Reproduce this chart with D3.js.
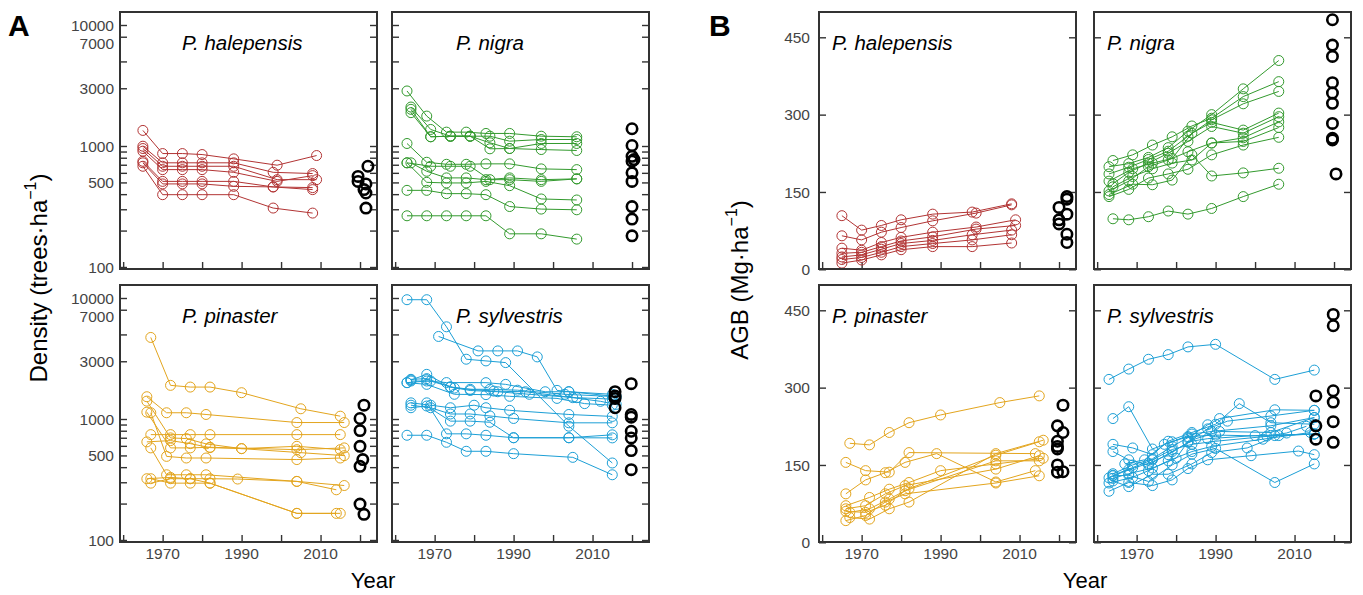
<!DOCTYPE html>
<html>
<head>
<meta charset="utf-8">
<script src="https://cdn.jsdelivr.net/npm/d3@7"></script>
<style>
  body { margin: 0; background: #fff; }
  svg { font-family: "Liberation Sans", Arial, sans-serif; }
</style>
</head>
<body>
<svg id="chart" width="1363" height="595"></svg>
<script>
// ---- data ----
var species = ["P. halepensis", "P. nigra", "P. pinaster", "P. sylvestris"];
var colors = ["#b23434", "#339a2e", "#e3a51e", "#1c9fd6"];

var densityTicks = [100, 200, 300, 400, 500, 600, 700, 800, 900, 1000, 3000, 5000, 8000, 10000];
var densityLabels = [100, 500, 1000, 3000, 7000, 10000];
var agbTicks = [0, 150, 300, 450];
var yearTicks = [1960, 1970, 1980, 1990, 2000, 2010, 2020];
var yearLabels = [1970, 1990, 2010];

// density, trees/ha
var halDensity = [
  [[1965,1345],[1970,866],[1975,866],[1980,850],[1988,783],[1999,694],[2009,834]],
  [[1965,996],[1970,726],[1975,726],[1980,726],[1988,726],[1998,606],[2008,592]],
  [[1965,953],[1970,680],[1975,680],[1980,680],[1988,680],[1999,527],[2009,527]],
  [[1965,906],[1970,638],[1975,638],[1980,638],[1988,606],[1999,510],[2008,569]],
  [[1965,748],[1970,510],[1975,510],[1980,510],[1988,510],[1998,459],[2008,436]],
  [[1965,726],[1970,486],[1975,486],[1980,486],[1988,464],[1998,459],[2008,453]],
  [[1965,680],[1970,396],[1975,396],[1980,396],[1988,396],[1998,307],[2008,279]]
];
var halDensityNew = [[2022,680],[2019.5,561],[2019.5,510],[2021.5,486],[2021,436],[2021.5,409],[2021.5,307]];

var nigDensity = [
  [[1963,2850],[1968,1767],[1973,1302],[1978,1302],[1983,1270],[1989,1270],[1997,1205],[2006,1192]],
  [[1964,2099],[1969,1370],[1974,1205],[1979,1205],[1984,1205],[1989,1096],[1997,1132],[2006,1132]],
  [[1964,2009],[1969,1192],[1974,1205],[1979,1205],[1984,1063],[1989,953],[1997,1049],[2006,1049]],
  [[1964,1886],[1969,1192],[1974,1205],[1979,1205],[1984,948],[1989,953],[1997,935],[2006,918]],
  [[1963,1049],[1968,734],[1973,706],[1978,706],[1983,712],[1989,712],[1997,647],[2006,638]],
  [[1963,726],[1969,680],[1974,680],[1979,680],[1984,527],[1989,527],[1997,510],[2006,535]],
  [[1964,726],[1968,618],[1973,545],[1978,545],[1983,527],[1989,545],[1997,527],[2006,535]],
  [[1963,726],[1968,501],[1973,495],[1978,495],[1983,510],[1989,470],[1997,365],[2006,358]],
  [[1963,430],[1968,430],[1973,404],[1978,404],[1983,396],[1989,316],[1997,301],[2006,297]],
  [[1963,265],[1968,265],[1973,265],[1978,265],[1983,265],[1989,188],[1997,188],[2006,170]]
];
var nigDensityNew = [[2020,1389],[2020,1010],[2020,822],[2020.5,772],[2020,748],[2020,600],[2020,510],[2020,316],[2020,249],[2020,181]];

var pinDensity = [
  [[1967,4721],[1972,1897],[1977,1836],[1982,1836],[1990,1650],[2005,1215],[2015,1055]],
  [[1966,1528],[1971,1126],[1976,1126],[1981,1090],[2004,935],[2016,935]],
  [[1967,743],[1972,743],[1977,743],[1982,743],[2004,743],[2015,743]],
  [[1966,1405],[1972,698],[1976,689],[1981,623],[1990,569],[2004,595],[2015,558]],
  [[1967,1126],[1971,491],[1976,476],[1981,476],[2004,462],[2015,476]],
  [[1966,1139],[1972,577],[1977,577],[1982,584],[2004,558],[2016,577]],
  [[1966,647],[1972,663],[1977,626],[1982,580],[1990,569],[2005,527],[2016,498]],
  [[1966,321],[1972,329],[1977,321],[1982,321],[1989,319],[2004,305],[2014,260]],
  [[1967,321],[1972,295],[1977,295],[1982,295],[2004,166],[2014,166]],
  [[1967,295],[1972,321],[1977,321],[1982,295],[2004,166],[2015,166]],
  [[1967,577],[1971,346],[1976,346],[1981,346],[2004,305],[2016,282]]
];
var pinDensityNew = [[2021,1302],[2020,1010],[2020,803],[2020,595],[2020.7,462],[2020,406],[2020,198],[2021,163]];

var sylDensity = [
  [[1963,9680],[1968,9680],[1973,5781],[1978,3120],[1983,3020],[1988,2925],[2004,872],[2015,433]],
  [[1971,4810],[1981,3654],[1986,3654],[1991,3654],[1996,3260],[2001,1724],[2004,1682],[2015,1546]],
  [[1963,1997],[1968,2060],[1973,2000],[1983,1997],[1988,1933],[1998,1680],[2004,1680],[2015,1600]],
  [[1964,2127],[1968,2156],[1974,1840],[1979,1760],[1984,1760],[1991,1730],[2003,1600],[2016,1530]],
  [[1964,2060],[1969,2060],[1975,1800],[1985,1700],[1993,1680],[2005,1500],[2012,1400],[2016,1319]],
  [[1964,2100],[1968,2339],[1974,1840],[1979,1720],[1986,1680],[1994,1600],[2006,1500],[2015,1460]],
  [[1963,1997],[1968,1933],[1975,1600],[1983,1590],[1989,1540],[2001,1480],[2008,1340],[2015,1300]],
  [[1964,1360],[1969,1300],[1974,1239],[1980,1300],[1983,1239],[1989,1180],[2004,1090],[2015,1050]],
  [[1964,1300],[1969,1239],[1974,1100],[1979,1100],[1984,1060],[1990,1010],[2004,930],[2015,930]],
  [[1964,1239],[1968,1280],[1974,960],[1979,960],[1984,940],[1990,700],[2004,700],[2015,740]],
  [[1968,1360],[1973,754],[1978,754],[1983,734],[1990,700],[2004,700],[2015,698]],
  [[1963,734],[1968,734],[1973,642],[1978,541],[1983,541],[1990,517],[2005,482],[2015,346]]
];
var sylDensityNew = [[2015.7,1682],[2015.7,1546],[2015.7,1479],[2015.7,1239],[2019.8,1958],[2019.8,1090],[2019.8,1035],[2019.8,792],[2019.8,698],[2019.8,548],[2019.8,381]];

// aboveground biomass, Mg/ha
var halAgb = [
  [[1965,104],[1970,76],[1975,85],[1980,96],[1988,107],[1998,111],[2008,127]],
  [[1965,65],[1970,57],[1975,72],[1980,81],[1988,94],[1999,109],[2008,125]],
  [[1965,41],[1970,37],[1975,52],[1980,62],[1988,72],[1999,82],[2009,96]],
  [[1965,31],[1970,33],[1975,44],[1980,55],[1988,63],[1999,78],[2009,85]],
  [[1965,24],[1970,28],[1975,39],[1980,50],[1988,56],[1998,67],[2008,76]],
  [[1965,19],[1970,23],[1975,33],[1980,44],[1988,50],[1998,57],[2008,67]],
  [[1965,12],[1970,18],[1975,28],[1980,38],[1988,44],[1998,44],[2008,51]]
];
var halAgbNew = [[2022,141],[2022,136],[2020,120],[2022,107],[2020,96],[2020,88],[2022,68],[2022,52]];

var nigAgb = [
  [[1963,199],[1968,205],[1973,217],[1978,236],[1983,268],[1989,300],[1997,350],[2006,405]],
  [[1964,211],[1969,222],[1974,241],[1979,257],[1984,278],[1989,293],[1997,335],[2006,364]],
  [[1963,185],[1968,198],[1973,213],[1978,229],[1983,258],[1989,290],[1997,321],[2006,345]],
  [[1963,171],[1969,195],[1974,206],[1979,215],[1984,264],[1989,285],[1997,270],[2006,303]],
  [[1964,166],[1968,188],[1973,206],[1978,225],[1983,248],[1989,277],[1997,264],[2006,296]],
  [[1963,152],[1968,171],[1973,199],[1978,212],[1983,228],[1989,245],[1997,255],[2006,286]],
  [[1964,160],[1969,180],[1974,195],[1979,206],[1984,212],[1989,245],[1997,248],[2006,275]],
  [[1963,141],[1968,155],[1973,177],[1978,185],[1983,194],[1989,222],[1997,241],[2006,256]],
  [[1963,145],[1969,165],[1974,164],[1979,173],[1984,222],[1989,181],[1997,187],[2006,196]],
  [[1964,98],[1968,96],[1973,102],[1978,113],[1983,107],[1989,118],[1997,141],[2006,165]]
];
var nigAgbNew = [[2019.6,484],[2019.6,435],[2019.6,413],[2019.6,362],[2019.6,342],[2019.6,322],[2019.6,283],[2019.6,254],[2019.6,251],[2020.5,185]];

var pinAgb = [
  [[1967,192],[1972,189],[1977,213],[1982,232],[1990,247],[2005,271],[2015,284]],
  [[1966,155],[1971,139],[1977,136],[1982,174],[2014,172]],
  [[1966,94],[1971,121],[1976,135],[1981,155],[1989,172],[2004,117],[2014,139]],
  [[1966,71],[1972,87],[1977,103],[1982,116],[1990,139],[2004,152],[2016,163]],
  [[1966,65],[1971,71],[1976,94],[1981,110],[2004,142],[2015,168]],
  [[1967,58],[1972,65],[1977,84],[1982,104],[2004,169],[2015,195]],
  [[1966,42],[1971,52],[1976,78],[1981,94],[2004,115],[2015,129]],
  [[1967,48],[1972,45],[1977,65],[1982,78],[2004,172],[2016,198]],
  [[1966,60],[1971,58],[1976,72],[1981,100],[2004,158],[2015,158]]
];
var pinAgbNew = [[2021,266],[2019.6,226],[2021,213],[2019.6,196],[2019.6,186],[2019.6,181],[2019.6,150],[2019.6,136],[2021,137]];

var sylAgb = [
  [[1963,316],[1968,336],[1973,355],[1978,364],[1983,379],[1990,384],[2005,316],[2015,334]],
  [[1964,240],[1968,263],[1974,181],[1979,195],[1984,210],[1989,215],[2004,226],[2015,242]],
  [[1964,190],[1969,183],[1974,170],[1978,196],[1984,213],[1990,229],[1996,269],[2004,232],[2015,229]],
  [[1964,176],[1968,160],[1973,150],[1979,176],[1985,201],[1991,215],[2004,213],[2015,242]],
  [[1964,130],[1969,145],[1974,160],[1979,180],[1984,190],[1990,196],[2005,207],[2015,210]],
  [[1964,124],[1968,133],[1974,144],[1980,163],[1983,195],[1988,201],[2000,207],[2015,210]],
  [[1963,115],[1969,126],[1973,139],[1978,158],[1984,176],[1989,186],[2002,200],[2014,213]],
  [[1964,119],[1968,108],[1974,132],[1978,132],[1984,152],[1989,174],[1998,183],[2006,207],[2015,210]],
  [[1963,99],[1968,116],[1974,110],[1979,121],[1983,143],[1988,160],[1999,168],[2011,177],[2015,170]],
  [[1963,125],[1968,141],[1973,153],[1978,170],[1983,194],[1988,220],[1993,235],[2004,245],[2015,256]],
  [[1964,133],[1969,150],[1974,162],[1979,186],[1983,203],[1988,228],[1991,240],[2005,257],[2015,256]],
  [[1964,129],[1968,130],[1973,118],[1979,150],[1984,171],[1990,182],[2005,116],[2015,152]],
  [[1967,152],[1972,160],[1977,190],[1983,205],[1990,208],[2003,206],[2008,212],[2013,225]]
];
var sylAgbNew = [[2019.8,442],[2019.8,420],[2015.4,284],[2019.8,294],[2019.8,272],[2015.4,226],[2019.8,234],[2015.4,200],[2019.8,194]];

// ---- layout ----
var svg = d3.select("#chart");
var pw = 257, ph = 257;
var densityData = [halDensity, nigDensity, pinDensity, sylDensity];
var densityNew = [halDensityNew, nigDensityNew, pinDensityNew, sylDensityNew];
var agbData = [halAgb, nigAgb, pinAgb, sylAgb];
var agbNew = [halAgbNew, nigAgbNew, pinAgbNew, sylAgbNew];

var panels = [];
species.forEach(function(sp, i) {
  var col = i % 2, row = Math.floor(i / 2);
  panels.push({group: "A", x0: [120, 392][col], y0: [12, 285][row], col: col, row: row,
    sp: sp, color: colors[i], series: densityData[i], extra: densityNew[i], titleDx: [62, 64][col]});
  panels.push({group: "B", x0: [819, 1094][col], y0: [12, 285][row], col: col, row: row,
    sp: sp, color: colors[i], series: agbData[i], extra: agbNew[i], titleDx: 13});
});

var line = d3.line();

panels.forEach(function(p) {
  var x = d3.scaleLinear().domain([1959.2, 2024.3]).range([p.x0, p.x0 + pw]);
  var y = p.group == "A"
    ? d3.scaleLog().domain([100, 10000]).range([p.y0 + 255, p.y0 + 13])
    : d3.scaleLinear().domain([0, 450]).range([p.y0 + 257.3, p.y0 + 25.3]);
  var g = svg.append("g");

  // ticks, inward on left, right and bottom
  var yt = p.group == "A" ? densityTicks : agbTicks;
  var yl = p.group == "A" ? densityLabels : agbTicks;
  g.append("g").call(d3.axisRight(y).tickValues(yt).tickSize(7).tickFormat(""))
    .attr("transform", "translate(" + p.x0 + ",0)");
  g.append("g").call(d3.axisLeft(y).tickValues(yt).tickSize(7).tickFormat(""))
    .attr("transform", "translate(" + (p.x0 + pw) + ",0)");
  g.append("g").call(d3.axisTop(x).tickValues(yearTicks).tickSize(7).tickFormat(""))
    .attr("transform", "translate(0," + (p.y0 + ph) + ")");
  g.selectAll(".domain").remove();
  g.selectAll(".tick line").attr("stroke", "#333").attr("stroke-width", 1.4);

  if (p.col == 0) {
    g.selectAll(".ylab").data(yl).enter().append("text")
      .attr("x", p.x0 - (p.group == "A" ? 6 : 9))
      .attr("y", function(d) { return y(d); })
      .attr("dy", "0.36em")
      .attr("text-anchor", "end")
      .style("font-size", "15.5px").attr("fill", "#444")
      .text(function(d) { return d; });
  }
  if (p.row == 1) {
    g.selectAll(".xlab").data(yearLabels).enter().append("text")
      .attr("x", function(d) { return x(d); })
      .attr("y", p.y0 + ph + 17)
      .attr("text-anchor", "middle")
      .style("font-size", "15.5px").attr("fill", "#444")
      .text(function(d) { return d; });
  }

  // series
  p.series.forEach(function(s) {
    g.append("path")
      .attr("d", line(s.map(function(d) { return [x(d[0]), y(d[1])]; })))
      .attr("fill", "none").attr("stroke", p.color).attr("stroke-width", 1);
    g.selectAll(null).data(s).enter().append("circle")
      .attr("cx", function(d) { return x(d[0]); })
      .attr("cy", function(d) { return y(d[1]); })
      .attr("r", 5)
      .attr("fill", "none").attr("stroke", p.color).attr("stroke-width", 1);
  });

  // recent inventory plots
  g.selectAll(null).data(p.extra).enter().append("circle")
    .attr("cx", function(d) { return x(d[0]); })
    .attr("cy", function(d) { return y(d[1]); })
    .attr("r", 5.2)
    .attr("fill", "none").attr("stroke", "#000").attr("stroke-width", 2.6);

  g.append("rect")
    .attr("x", p.x0).attr("y", p.y0).attr("width", pw).attr("height", ph)
    .attr("fill", "none").attr("stroke", "#333").attr("stroke-width", 2);

  g.append("text")
    .attr("x", p.x0 + p.titleDx).attr("y", p.y0 + 38)
    .style("font-size", "20.5px").style("font-style", "italic")
    .text(p.sp);
});

// panel letters and axis titles
svg.append("text").attr("x", 8).attr("y", 36).style("font-size", "30px").style("font-weight", "bold").text("A");
svg.append("text").attr("x", 709).attr("y", 36).style("font-size", "30px").style("font-weight", "bold").text("B");

function yTitle(xc, yc, main) {
  var t = svg.append("text")
    .attr("transform", "translate(" + xc + "," + yc + ") rotate(-90)")
    .attr("text-anchor", "middle")
    .style("font-size", "24px");
  t.append("tspan").text(main);
  t.append("tspan").attr("dy", -11).style("font-size", "16px").text("\u22121");
  t.append("tspan").attr("dy", 11).text(")");
}
yTitle(47, 278, "Density (trees\u00b7ha");
yTitle(748, 280, "AGB (Mg\u00b7ha");

svg.append("text").attr("x", 373).attr("y", 588).attr("text-anchor", "middle").style("font-size", "22px").text("Year");
svg.append("text").attr("x", 1085).attr("y", 588).attr("text-anchor", "middle").style("font-size", "22px").text("Year");
</script>
</body>
</html>
